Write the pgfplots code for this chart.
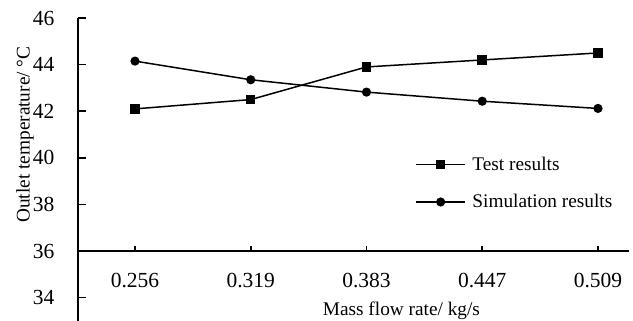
\documentclass[border=0pt]{standalone}
\usepackage{fontspec}
\setmainfont{Liberation Serif}
\usepackage{pgfplots}
\pgfplotsset{compat=1.18}
\begin{document}
\begin{tikzpicture}[font=\fontsize{19.3}{23}\selectfont]
\begin{axis}[
  at={(0,0)}, anchor=south west, scale only axis,
  width=551pt, height=303pt,
  xmin=-0.4925, xmax=4.268, ymin=33, ymax=46,
  axis x line=none, axis y line=left,
  axis line style={-, line width=1.6pt},
  ytick={34,36,...,46},
  tick align=inside, major tick length=8pt,
  tick style={line width=1.6pt, black},
  yticklabel style={xshift=-20pt, font=\fontsize{21.5}{25}\selectfont},
  /pgf/number format/assume math mode=true,
  ylabel={Outlet temperature/ °C},
  ylabel style={at={(axis description cs:-0.0962,0.615)}, anchor=center},
  legend style={at={(axis description cs:0.612,0.548)}, anchor=north west,
    draw=none, fill=none, inner sep=0pt, row sep=18.5pt,
    font=\fontsize{19.3}{23}\selectfont,
    nodes={inner xsep=6.5pt}},
  legend cell align=left,
  legend image code/.code={\draw[mark repeat=2,mark phase=2,#1] plot coordinates {(0pt,0pt) (24.5pt,0pt) (49pt,0pt)};},
]
\addplot[black, line width=1.5pt, mark=square*, mark size=4pt, mark options={solid}]
  coordinates {(0,42.1) (1,42.5) (2,43.9) (3,44.2) (4,44.5)};
\addlegendentry{Test results}
\addplot[black, line width=1.5pt, mark=*, mark size=3.8pt, mark options={solid}]
  coordinates {(0,44.15) (1,43.35) (2,42.82) (3,42.43) (4,42.12)};
\addlegendentry{Simulation results}
\end{axis}
\begin{axis}[
  at={(0,69.92pt)}, anchor=south west, scale only axis,
  width=551pt, height=233.08pt,
  xmin=-0.4925, xmax=4.268, ymin=36, ymax=46,
  axis y line=none, axis x line=bottom,
  axis line style={-, line width=1.6pt},
  xtick={0,1,2,3,4},
  xticklabels={0.256,0.319,0.383,0.447,0.509},
  tick align=inside, major tick length=5pt,
  tick style={line width=1.6pt, black},
  xticklabel style={yshift=-18.5pt, font=\fontsize{21.5}{25}\selectfont},
  xlabel={Mass flow rate/ kg/s},
  xlabel style={at={(axis description cs:0.587,-0.255)}, anchor=center},
]
\end{axis}
\pgfresetboundingbox
\useasboundingbox (-78pt,0pt) rectangle (555pt,321pt);
\end{tikzpicture}
\end{document}
